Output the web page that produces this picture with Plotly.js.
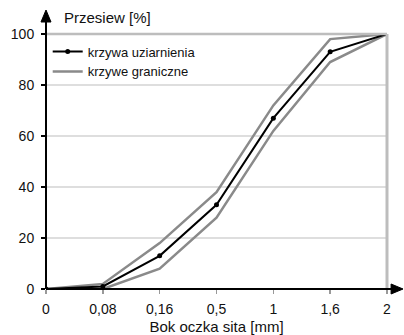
<!DOCTYPE html>
<html><head><meta charset="utf-8">
<script src="https://cdn.plot.ly/plotly-3.0.1.min.js"></script>
<style>html,body{margin:0;padding:0;background:#fff}#c{width:404px;height:335px}</style>
</head><body><div id="c"></div>
<script>
const sieves = ['0', '0,08', '0,16', '0,5', '1', '1,6', '2'];
const gradation = [0, 1, 13, 33, 67, 93, 100];
const upperLimit = [0, 2, 18, 38, 72, 98, 100];
const lowerLimit = [0, 0, 8, 28, 62, 89, 100];
const xIdx = sieves.map((_, i) => i);

const F = 'Liberation Sans, Arial, sans-serif';
const traces = [
  {x: xIdx, y: upperLimit, mode: 'lines', name: 'krzywe graniczne', legendgroup: 'g',
   line: {color: '#8a8a8a', width: 2.5}, showlegend: false, hoverinfo: 'skip'},
  {x: xIdx, y: lowerLimit, mode: 'lines', name: 'krzywe graniczne', legendgroup: 'g',
   line: {color: '#8a8a8a', width: 2.5}, showlegend: true, legendrank: 2},
  {x: xIdx, y: gradation, mode: 'lines+markers', name: 'krzywa uziarnienia', legendrank: 1,
   line: {color: '#000', width: 2}, marker: {color: '#000', size: 5}}
];

const layout = {
  width: 404, height: 335,
  margin: {l: 46, r: 17, t: 34, b: 46},
  paper_bgcolor: '#fff', plot_bgcolor: '#fff',
  font: {family: F, size: 13, color: '#111'},
  showlegend: true,
  legend: {x: 0.005, y: 0.99, xanchor: 'left', yanchor: 'top', bgcolor: 'rgba(0,0,0,0)',
           font: {family: F, size: 13, color: '#111'}, itemwidth: 30, tracegroupgap: 0},
  xaxis: {range: [0, 6], tickvals: xIdx, ticktext: sieves, showgrid: false, zeroline: false,
          showline: false, ticks: 'outside', ticklen: 4, tickcolor: '#999', tickwidth: 1.5,
          ticklabelstandoff: 3,
          tickfont: {family: F, size: 14, color: '#111'},
          title: {text: 'Bok oczka sita [mm]', font: {family: F, size: 15, color: '#111'}, standoff: 7}},
  yaxis: {range: [0, 100], tickvals: [0, 20, 40, 60, 80, 100], showgrid: true, gridcolor: '#dedede',
          gridwidth: 1.5, zeroline: false, showline: false, ticks: 'outside', ticklen: 4,
          ticklabelstandoff: 4,
          tickcolor: '#000', tickwidth: 1.5, tickfont: {family: F, size: 14, color: '#111'}},
  shapes: [
    {type: 'line', xref: 'paper', yref: 'paper', x0: 0, x1: 1, y0: 1, y1: 1, line: {color: '#bdbdbd', width: 2.5}},
    {type: 'line', xref: 'paper', yref: 'paper', x0: 1, x1: 1, y0: 0, y1: 1, line: {color: '#bdbdbd', width: 3}},
    {type: 'line', xref: 'paper', yref: 'paper', x0: 0, x1: 1.02, y0: 0, y1: 0, line: {color: '#000', width: 2}},
    {type: 'line', xref: 'paper', yref: 'paper', x0: 0, x1: 0, y0: 0, y1: 1.06, line: {color: '#000', width: 2}},
    {type: 'path', xref: 'paper', yref: 'paper', path: 'M -0.0147 1.047 L 0.0147 1.047 L 0 1.094 Z',
     fillcolor: '#000', line: {color: '#000', width: 1}},
    {type: 'path', xref: 'paper', yref: 'paper', path: 'M 1.012 -0.0196 L 1.012 0.0196 L 1.047 0 Z',
     fillcolor: '#000', line: {color: '#000', width: 1}}
  ],
  annotations: [
    {text: 'Przesiew [%]', xref: 'paper', yref: 'paper', x: 0.047, y: 1.063, xanchor: 'left', yanchor: 'middle',
     showarrow: false, font: {family: F, size: 15, color: '#111'}}
  ]
};
Plotly.newPlot('c', traces, layout, {displayModeBar: false, staticPlot: true});
</script></body></html>
